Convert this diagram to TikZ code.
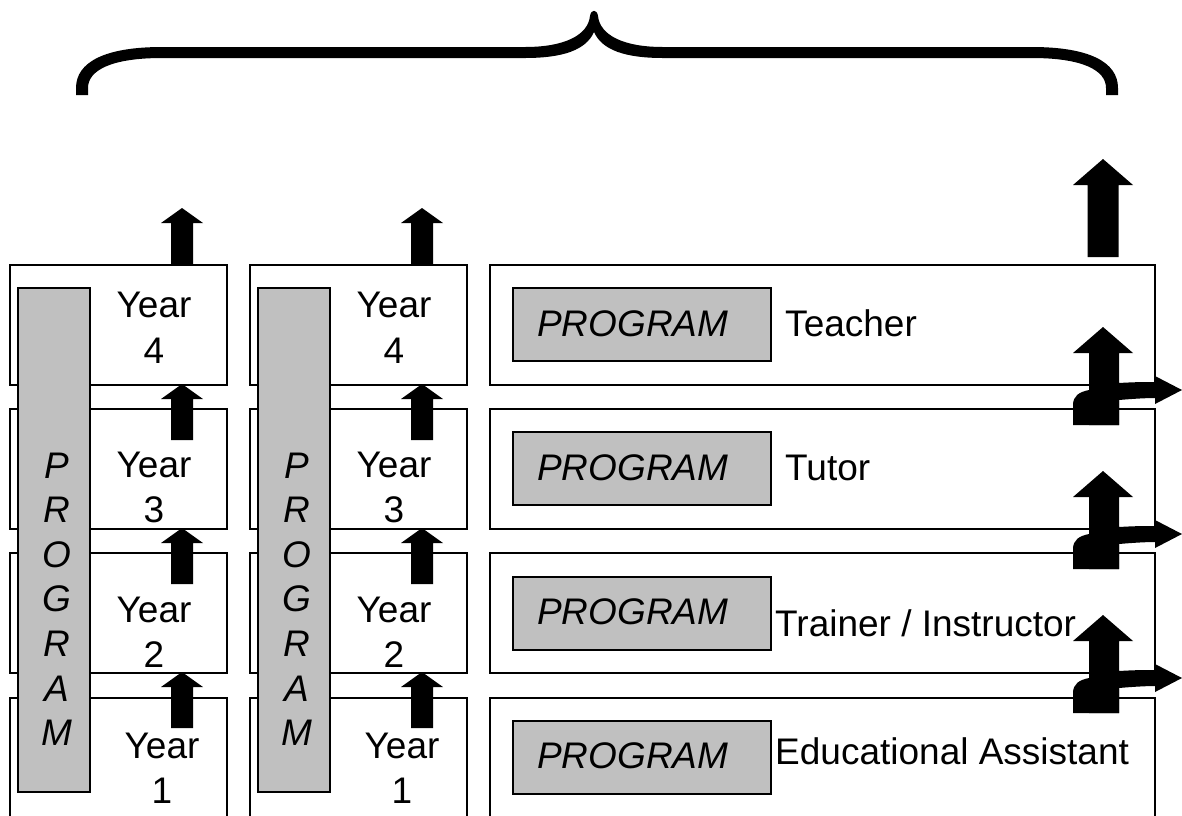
\documentclass[tikz,border=0pt]{standalone}
\usepackage{fontspec}
\setmainfont{Liberation Sans}
\definecolor{greyfill}{RGB}{192,192,192}
\newcommand\upblk[6]{% cx, tip y, bottom y, head length, half head, half shaft
  \fill[black] (#1-#6,#3) -- (#1-#6,#2+#4) -- (#1-#5,#2+#4) -- (#1,#2) -- (#1+#5,#2+#4) -- (#1+#6,#2+#4) -- (#1+#6,#3) -- cycle;}
\newcommand\bentblk[1]{% vertical offset
  \fill[black] (1089,425+#1) -- (1089,353+#1) -- (1073,353+#1) -- (1103,327+#1) -- (1133,353+#1) -- (1119,353+#1) -- (1119,383+#1)
    .. controls (1135,382+#1) and (1145,382+#1) .. (1155,382+#1) -- (1155,376+#1) -- (1182,390+#1) -- (1155,404+#1) -- (1155,398+#1)
    .. controls (1145,398+#1) and (1130,399+#1) .. (1119,400+#1) -- (1119,425+#1) -- cycle;
  \fill[black] (1073,425+#1) -- (1073,405+#1) .. controls (1073,396+#1) and (1079,392+#1) .. (1089,390+#1) -- (1119,386+#1) -- (1119,425+#1) -- cycle;}
\begin{document}
\begin{tikzpicture}[x=1pt,y=-1pt,
  box/.style={draw, line width=2pt, fill=white, anchor=north west, inner sep=0pt, outer sep=0pt},
  greybar/.style={draw, line width=2pt, fill=greyfill, anchor=north west, inner sep=0pt, outer sep=0pt},
  lbl/.style={font=\fontsize{37}{44}\selectfont, inner sep=0pt, anchor=base},
  ilbl/.style={font=\fontsize{37}{44}\selectfont\itshape, inner sep=0pt, anchor=base}]
\useasboundingbox (0,0) rectangle (1182,815);
\clip (0,0) rectangle (1182,815);
% brace
\fill[black] (76,95) -- (76,88) .. controls (76,62) and (105,47) .. (162,47) -- (525,47)
  .. controls (565,47) and (588,35) .. (590,16) .. controls (591,9) and (597,9) .. (598,16)
  .. controls (600,35) and (623,47) .. (663,47) -- (1032,47)
  .. controls (1089,47) and (1118,62) .. (1118,88) -- (1118,95) -- (1106,95) -- (1106,88)
  .. controls (1106,70) and (1082,58) .. (1032,58) -- (663,58)
  .. controls (625,58) and (602,50) .. (594,32)
  .. controls (586,50) and (563,58) .. (525,58) -- (162,58)
  .. controls (112,58) and (88,70) .. (88,88) -- (88,95) -- cycle;
% left columns
\foreach \c/\n in {0/a,240/b}{
  \node[box, minimum width=217, minimum height=120] (y4\n) at (10+\c,265) {};
  \node[box, minimum width=217, minimum height=120] (y3\n) at (10+\c,409) {};
  \node[box, minimum width=217, minimum height=120] (y2\n) at (10+\c,553) {};
  \node[box, minimum width=217, minimum height=120] (y1\n) at (10+\c,698) {};
  \node[greybar, minimum width=72, minimum height=504] (pb\n) at (18+\c,288) {};
  \foreach \l [count=\i] in {P,R,O,G,R,A,M}
    \node[ilbl] (pl\n\i) at (57+\c,478+44.6*\i-44.6) {\l};
  \node[lbl] (t4\n) at (154+\c,317) {Year};
  \node[lbl] (n4\n) at (154+\c,363) {4};
  \node[lbl] (t3\n) at (154+\c,477) {Year};
  \node[lbl] (n3\n) at (154+\c,522) {3};
  \node[lbl] (t2\n) at (154+\c,622) {Year};
  \node[lbl] (n2\n) at (154+\c,667) {2};
  \node[lbl] (t1\n) at (162+\c,758) {Year};
  \node[lbl] (n1\n) at (162+\c,803) {1};
  \upblk{182+\c}{208}{264}{15}{21}{11}
  \upblk{182+\c}{384}{440}{15}{21}{11}
  \upblk{182+\c}{528}{584}{15}{21}{11}
  \upblk{182+\c}{672}{728}{15}{21}{11}
}
% right column
\node[box, minimum width=665, minimum height=120] (r4) at (490,265) {};
\node[box, minimum width=665, minimum height=120] (r3) at (490,409) {};
\node[box, minimum width=665, minimum height=120] (r2) at (490,553) {};
\node[box, minimum width=665, minimum height=120] (r1) at (490,698) {};
\node[greybar, minimum width=258, minimum height=73] (g4) at (513,288) {};
\node[greybar, minimum width=258, minimum height=73] (g3) at (513,432) {};
\node[greybar, minimum width=258, minimum height=73] (g2) at (513,577) {};
\node[greybar, minimum width=258, minimum height=73] (g1) at (513,721) {};
\node[ilbl, anchor=base west] (gp4) at (537,336) {PROGRAM};
\node[ilbl, anchor=base west] (gp3) at (537,480) {PROGRAM};
\node[ilbl, anchor=base west] (gp2) at (537,624) {PROGRAM};
\node[ilbl, anchor=base west] (gp1) at (537,768) {PROGRAM};
\node[lbl, anchor=base west] (teacher) at (785,336) {Teacher};
\node[lbl, anchor=base west] (tutor) at (785,480) {Tutor};
\node[lbl, anchor=base west] (trainer) at (775,636) {Trainer / Instructor};
\node[lbl, anchor=base west] (ea) at (775,764) {Educational Assistant};
\upblk{1103}{159}{257}{26}{30}{15.5}
\bentblk{0}
\bentblk{144}
\bentblk{288}
\end{tikzpicture}
\end{document}
